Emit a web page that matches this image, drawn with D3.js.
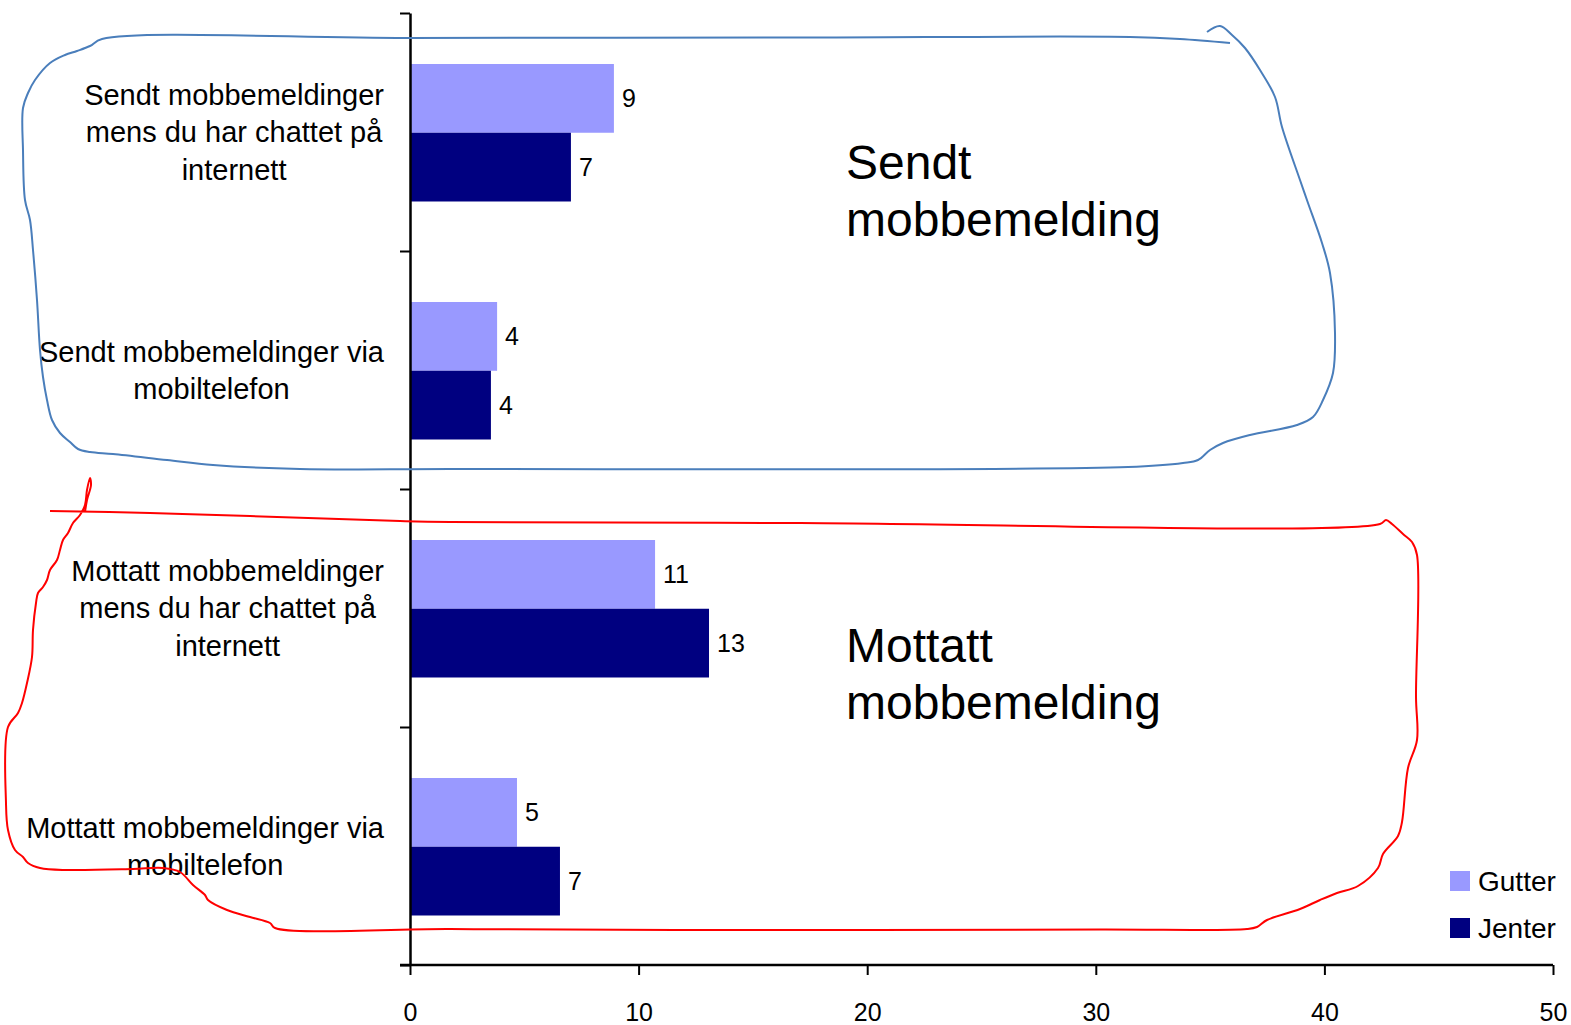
<!DOCTYPE html>
<html>
<head>
<meta charset="utf-8">
<script src="https://cdn.jsdelivr.net/npm/d3@7"></script>
<style>
  html, body { margin: 0; padding: 0; background: #fff; }
  svg { display: block; font-family: "Liberation Sans", Arial, sans-serif; }
</style>
</head>
<body>
<svg id="chart" width="1571" height="1025"></svg>
<script>
// ---- data ----
const categories = [
  "Sendt mobbemeldinger mens du har chattet på internett",
  "Sendt mobbemeldinger via mobiltelefon",
  "Mottatt mobbemeldinger mens du har chattet på internett",
  "Mottatt mobbemeldinger via mobiltelefon"
];
const categoryLines = [
  ["Sendt mobbemeldinger", "mens du har chattet på", "internett"],
  ["Sendt mobbemeldinger via", "mobiltelefon"],
  ["Mottatt mobbemeldinger", "mens du har chattet på", "internett"],
  ["Mottatt mobbemeldinger via", "mobiltelefon"]
];
const series = ["Gutter", "Jenter"];
const gutter = [8.92, 3.81, 10.72, 4.68];
const jenter = [7.04, 3.54, 13.08, 6.56];
const xTicks = [0, 10, 20, 30, 40, 50];
const groupTitles = [["Sendt", "mobbemelding"], ["Mottatt", "mobbemelding"]];

const colors = { Gutter: "#9999FF", Jenter: "#000080" };

// ---- annotation strokes (hand-drawn outlines) ----
const bluePen = [[1230,43],[1180,39],[1130,37],[800,37.5],[410,38],[102,39],[90,46],[77,51],[65,55],[50,63],[35,80],[28,93],[23,108],[23,150],[25,200],[30,220],[33,250],[37,300],[40,350],[43,377],[47,400],[52,420],[60,433],[70,442],[78,449],[90,452],[113,454],[167,460],[213,465],[300,469],[450,469],[1128,467],[1183,463],[1198,460],[1210,450],[1223,443],[1250,435],[1297,425],[1313,417],[1323,400],[1333,373],[1335,333],[1330,273],[1322,243],[1308,203],[1300,180],[1282,127],[1275,97],[1260,70],[1245,48],[1232,35],[1220,26],[1207,32]];
const redPen = [[50,511],[150,513],[250,516],[400,521],[450,522],[800,523],[1380,524],[1386,520],[1392,524],[1403,534],[1412,542],[1417,555],[1416,697],[1417,740],[1408,768],[1402,822],[1398,836],[1383,854],[1378,868],[1358,886],[1337,893],[1320,900],[1300,909],[1267,920],[1257,927],[1247,929],[1100,929.5],[675,930],[450,929],[275,928],[270,923],[250,917],[227,910],[208,900],[205,895],[193,885],[180,872],[163,868],[133,869],[67,870],[40,868],[28,863],[23,857],[15,850],[8,830],[6,803],[8,727],[18,713],[22,703],[27,683],[32,657],[33,630],[36,603],[38,593],[43,587],[47,580],[50,570],[57,560],[60,550],[63,540],[68,533],[73,523],[80,515],[85,505],[87,490],[90,478],[91,485],[87,500],[85,512]];

// ---- layout ----
const svg = d3.select("#chart");
const x = d3.scaleLinear().domain([0, 50]).range([410, 1553]);
const y0 = d3.scaleBand().domain(categories).range([13, 965]).padding(0);
const bw = y0.bandwidth();
const y1 = d3.scaleBand().domain(series).range([0.2143 * bw, 0.792 * bw]).padding(0);
const yBoundary = d3.scaleLinear().domain([0, categories.length]).range([13, 965]);

const rows = categories.map((c, i) => ({
  cat: c, lines: categoryLines[i],
  vals: [{ s: "Gutter", v: gutter[i] }, { s: "Jenter", v: jenter[i] }]
}));

// bars
const g = svg.append("g");
const grp = g.selectAll("g.row").data(rows).join("g")
  .attr("transform", d => `translate(0,${y0(d.cat)})`);
grp.selectAll("rect").data(d => d.vals).join("rect")
  .attr("x", x(0))
  .attr("y", d => y1(d.s))
  .attr("width", d => x(d.v) - x(0))
  .attr("height", y1.bandwidth())
  .attr("fill", d => colors[d.s]);
grp.selectAll("text.val").data(d => d.vals).join("text")
  .attr("class", "val")
  .attr("x", d => x(d.v) + 8)
  .attr("y", d => y1(d.s) + y1.bandwidth() / 2)
  .attr("dy", "0.36em")
  .attr("font-size", 25)
  .attr("fill", "#000")
  .text(d => d3.format(".0f")(d.v));

// x axis
const xAxis = svg.append("g")
  .attr("transform", `translate(0,965)`)
  .call(d3.axisBottom(x).tickValues(xTicks).tickSize(10).tickPadding(28).tickSizeOuter(0));
xAxis.select(".domain").attr("stroke", "#000").attr("stroke-width", 2.5)
  .attr("d", `M400,0H${x(50)}`);
xAxis.selectAll(".tick line").attr("stroke", "#000").attr("stroke-width", 2);
xAxis.selectAll(".tick text").attr("font-size", 25).attr("fill", "#000")
  .attr("font-family", "Liberation Sans, Arial, sans-serif");

// y axis
const yAxis = svg.append("g")
  .attr("transform", `translate(${x(0)},0)`)
  .call(d3.axisLeft(yBoundary).tickValues(d3.range(categories.length + 1)).tickSize(10).tickFormat("").tickSizeOuter(0));
yAxis.select(".domain").attr("stroke", "#000").attr("stroke-width", 2.5);
yAxis.selectAll(".tick line").attr("stroke", "#000").attr("stroke-width", 2);

// category labels (centered block, right edge at 384)
const lineH = 37.5;
rows.forEach(d => {
  const cy = y0(d.cat) + bw / 2;
  const t = svg.append("text").attr("font-size", 29).attr("fill", "#000").attr("text-anchor", "middle");
  const n = d.lines.length;
  const tsp = d.lines.map((ln, i) => t.append("tspan").attr("y", cy + (i - (n - 1) / 2) * lineH).attr("dy", "0.36em").text(ln));
  const maxW = d3.max(tsp, s => s.node().getComputedTextLength());
  tsp.forEach(s => s.attr("x", 384 - maxW / 2));
});

// group titles
const titlePos = [{ x: 846, y: 179 }, { x: 846, y: 662 }];
groupTitles.forEach((lines, i) => {
  const t = svg.append("text").attr("font-size", 48).attr("fill", "#000");
  lines.forEach((ln, j) => t.append("tspan").attr("x", titlePos[i].x).attr("y", titlePos[i].y + j * 57).text(ln));
});

// legend
const leg = svg.append("g");
series.forEach((s, i) => {
  const yy = 871 + i * 47;
  leg.append("rect").attr("x", 1450).attr("y", yy).attr("width", 20).attr("height", 20).attr("fill", colors[s]);
  leg.append("text").attr("x", 1478).attr("y", yy + 10).attr("dy", "0.36em").attr("font-size", 28).attr("fill", "#000").text(s);
});

// annotation outlines
const pen = d3.line().curve(d3.curveCatmullRom.alpha(0.5));
svg.append("path").attr("d", pen(bluePen)).attr("fill", "none").attr("stroke", "#4A7EBB").attr("stroke-width", 2);
svg.append("path").attr("d", pen(redPen)).attr("fill", "none").attr("stroke", "#FF0000").attr("stroke-width", 2);
</script>
</body>
</html>
